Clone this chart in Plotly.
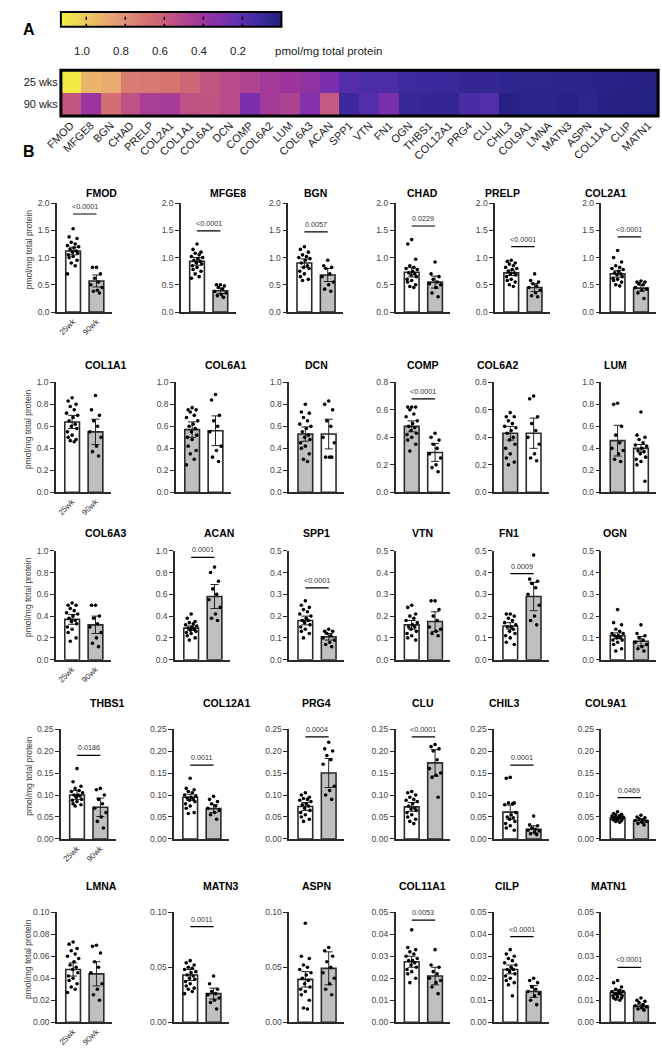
import numpy as np
import plotly.graph_objects as go

W, H = 662, 1050
FONT = "Arial, Liberation Sans, sans-serif"

# ---- data ----------------------------------------------------------------
genes = ["FMOD", "MFGE8", "BGN", "CHAD", "PRELP", "COL2A1",
         "COL1A1", "COL6A1", "DCN", "COMP", "COL6A2", "LUM",
         "COL6A3", "ACAN", "SPP1", "VTN", "FN1", "OGN",
         "THBS1", "COL12A1", "PRG4", "CLU", "CHIL3", "COL9A1",
         "LMNA", "MATN3", "ASPN", "COL11A1", "CILP", "MATN1"]
heat_genes = genes[:28] + ["CLIP", "MATN1"]
group_labels = ["25wk", "90wk"]

heat_25 = [1.12, 0.93, 0.90, 0.73, 0.72, 0.70, 0.64, 0.57, 0.53, 0.48, 0.43, 0.40,
           0.37, 0.29, 0.18, 0.16, 0.155, 0.11, 0.10, 0.095, 0.074, 0.073, 0.061, 0.048,
           0.048, 0.043, 0.039, 0.0275, 0.024, 0.0135]
heat_90 = [0.57, 0.39, 0.68, 0.55, 0.45, 0.44, 0.55, 0.56, 0.53, 0.29, 0.43, 0.47,
           0.32, 0.58, 0.105, 0.175, 0.29, 0.085, 0.072, 0.069, 0.15, 0.173, 0.022, 0.042,
           0.044, 0.026, 0.049, 0.021, 0.014, 0.0073]
colorbar_ticks = [1.0, 0.8, 0.6, 0.4, 0.2]

mean_a = [1.12, 0.93, 0.90, 0.73, 0.72, 0.70, 0.64, 0.57, 0.53, 0.48, 0.43, 0.47,
          0.37, 0.29, 0.18, 0.16, 0.155, 0.11, 0.10, 0.095, 0.074, 0.073, 0.061, 0.048,
          0.048, 0.043, 0.039, 0.0275, 0.024, 0.0135]
mean_b = [0.57, 0.39, 0.68, 0.55, 0.45, 0.44, 0.55, 0.56, 0.53, 0.29, 0.43, 0.40,
          0.32, 0.58, 0.105, 0.175, 0.29, 0.085, 0.072, 0.069, 0.15, 0.173, 0.022, 0.042,
          0.044, 0.026, 0.049, 0.021, 0.014, 0.0073]
err_a = [0.07, 0.07, 0.075, 0.085, 0.05, 0.06, 0.06, 0.07, 0.065, 0.04, 0.05, 0.14,
         0.045, 0.02, 0.02, 0.02, 0.015, 0.013, 0.01, 0.007, 0.009, 0.01, 0.016, 0.0025,
         0.006, 0.005, 0.007, 0.0025, 0.002, 0.001]
err_b = [0.11, 0.05, 0.12, 0.11, 0.075, 0.055, 0.115, 0.135, 0.135, 0.065, 0.11, 0.035,
         0.08, 0.11, 0.015, 0.045, 0.065, 0.022, 0.021, 0.009, 0.033, 0.03, 0.008, 0.004,
         0.011, 0.005, 0.015, 0.004, 0.0027, 0.0009]

pts_a = [
    [1.53, 1.38, 1.35, 1.28, 1.25, 1.22, 1.2, 1.18, 1.15, 1.12, 1.1, 1.08, 1.05, 1.02, 1.0, 0.95, 0.9, 0.85, 0.7],
    [1.25, 1.15, 1.1, 1.08, 1.05, 1.02, 1.0, 0.98, 0.95, 0.93, 0.9, 0.88, 0.85, 0.82, 0.78, 0.75, 0.7, 0.65, 0.62],
    [1.2, 1.15, 1.1, 1.05, 1.02, 1.0, 0.98, 0.95, 0.9, 0.85, 0.82, 0.8, 0.75, 0.7, 0.65, 0.6, 0.58],
    [1.33, 1.25, 0.97, 0.85, 0.82, 0.8, 0.78, 0.75, 0.72, 0.7, 0.68, 0.65, 0.6, 0.58, 0.55, 0.5, 0.47, 0.45],
    [0.95, 0.93, 0.9, 0.88, 0.85, 0.82, 0.8, 0.78, 0.75, 0.72, 0.7, 0.68, 0.65, 0.6, 0.58, 0.55, 0.5, 0.47],
    [1.13, 1.0, 0.92, 0.85, 0.82, 0.8, 0.78, 0.75, 0.72, 0.7, 0.68, 0.65, 0.62, 0.6, 0.58, 0.55, 0.5, 0.48],
    [0.86, 0.83, 0.8, 0.78, 0.75, 0.72, 0.7, 0.68, 0.65, 0.62, 0.6, 0.58, 0.55, 0.52, 0.5, 0.48, 0.47, 0.46],
    [0.77, 0.75, 0.75, 0.73, 0.7, 0.68, 0.65, 0.62, 0.6, 0.58, 0.55, 0.52, 0.5, 0.48, 0.42, 0.38, 0.35, 0.3, 0.25],
    [0.8, 0.73, 0.72, 0.68, 0.65, 0.62, 0.6, 0.58, 0.55, 0.52, 0.5, 0.48, 0.45, 0.42, 0.4, 0.35, 0.3, 0.28],
    [0.62, 0.62, 0.62, 0.6, 0.57, 0.55, 0.52, 0.5, 0.48, 0.47, 0.45, 0.43, 0.42, 0.4, 0.38, 0.35, 0.3],
    [0.58, 0.55, 0.55, 0.52, 0.5, 0.48, 0.47, 0.45, 0.43, 0.4, 0.38, 0.35, 0.32, 0.28, 0.25, 0.22, 0.2],
    [0.81, 0.8, 0.6, 0.52, 0.45, 0.4, 0.38, 0.35, 0.3, 0.28],
    [0.52, 0.5, 0.5, 0.47, 0.45, 0.43, 0.42, 0.4, 0.38, 0.36, 0.35, 0.33, 0.3, 0.28, 0.25, 0.2, 0.17],
    [0.42, 0.38, 0.35, 0.34, 0.33, 0.32, 0.31, 0.3, 0.29, 0.28, 0.27, 0.26, 0.25, 0.24, 0.22, 0.2, 0.18],
    [0.27, 0.25, 0.24, 0.23, 0.22, 0.21, 0.2, 0.19, 0.18, 0.18, 0.17, 0.16, 0.15, 0.14, 0.13, 0.12, 0.1],
    [0.25, 0.24, 0.21, 0.2, 0.19, 0.18, 0.17, 0.16, 0.15, 0.15, 0.14, 0.13, 0.12, 0.11, 0.1, 0.09],
    [0.21, 0.21, 0.2, 0.19, 0.18, 0.17, 0.16, 0.15, 0.15, 0.14, 0.13, 0.12, 0.11, 0.1, 0.08, 0.07],
    [0.23, 0.17, 0.16, 0.14, 0.13, 0.12, 0.12, 0.11, 0.11, 0.1, 0.1, 0.09, 0.09, 0.08, 0.07, 0.05, 0.04],
    [0.16, 0.13, 0.12, 0.115, 0.11, 0.108, 0.105, 0.1, 0.1, 0.098, 0.095, 0.09, 0.088, 0.085, 0.08, 0.078, 0.075],
    [0.138, 0.115, 0.112, 0.108, 0.105, 0.1, 0.098, 0.095, 0.093, 0.09, 0.088, 0.085, 0.08, 0.075, 0.07, 0.06, 0.058],
    [0.105, 0.1, 0.095, 0.092, 0.09, 0.088, 0.085, 0.08, 0.078, 0.075, 0.07, 0.065, 0.06, 0.055, 0.05, 0.045, 0.04],
    [0.108, 0.105, 0.1, 0.095, 0.09, 0.088, 0.085, 0.08, 0.075, 0.07, 0.068, 0.065, 0.06, 0.055, 0.05, 0.045, 0.04, 0.035],
    [0.14, 0.138, 0.082, 0.082, 0.08, 0.078, 0.06, 0.055, 0.05, 0.048, 0.045, 0.04, 0.035, 0.03, 0.025, 0.02],
    [0.062, 0.058, 0.056, 0.055, 0.053, 0.052, 0.05, 0.05, 0.049, 0.048, 0.047, 0.046, 0.045, 0.044, 0.043, 0.042, 0.04, 0.038],
    [0.073, 0.071, 0.067, 0.065, 0.062, 0.06, 0.058, 0.055, 0.052, 0.05, 0.048, 0.045, 0.042, 0.04, 0.038, 0.035, 0.032, 0.03, 0.027],
    [0.056, 0.054, 0.052, 0.05, 0.049, 0.048, 0.046, 0.045, 0.043, 0.042, 0.04, 0.039, 0.037, 0.035, 0.033, 0.031, 0.03, 0.028, 0.026],
    [0.09, 0.06, 0.058, 0.052, 0.05, 0.048, 0.045, 0.043, 0.04, 0.038, 0.035, 0.032, 0.03, 0.028, 0.025, 0.02, 0.013, 0.012],
    [0.042, 0.034, 0.033, 0.032, 0.031, 0.03, 0.029, 0.028, 0.028, 0.027, 0.026, 0.025, 0.024, 0.023, 0.022, 0.02, 0.018],
    [0.033, 0.031, 0.03, 0.029, 0.028, 0.027, 0.026, 0.025, 0.024, 0.024, 0.023, 0.022, 0.021, 0.02, 0.019, 0.018, 0.017, 0.012],
    [0.019, 0.018, 0.016, 0.015, 0.0145, 0.014, 0.014, 0.0135, 0.013, 0.013, 0.0125, 0.012, 0.012, 0.0115, 0.011, 0.011, 0.0105, 0.01],
]
pts_b = [
    [0.82, 0.82, 0.7, 0.62, 0.55, 0.5, 0.45, 0.4, 0.38, 0.35],
    [0.5, 0.5, 0.48, 0.45, 0.42, 0.38, 0.35, 0.32, 0.3, 0.27],
    [0.95, 0.85, 0.82, 0.8, 0.7, 0.65, 0.55, 0.5, 0.42, 0.38],
    [0.92, 0.7, 0.65, 0.6, 0.55, 0.52, 0.5, 0.45, 0.35, 0.28],
    [0.7, 0.58, 0.55, 0.52, 0.48, 0.45, 0.4, 0.35, 0.3, 0.28],
    [0.57, 0.55, 0.55, 0.52, 0.5, 0.45, 0.42, 0.4, 0.35, 0.25],
    [0.88, 0.75, 0.7, 0.65, 0.6, 0.55, 0.5, 0.42, 0.37, 0.33],
    [0.89, 0.84, 0.7, 0.65, 0.6, 0.55, 0.42, 0.38, 0.32, 0.28],
    [0.83, 0.8, 0.75, 0.65, 0.6, 0.5, 0.45, 0.32, 0.32, 0.32],
    [0.43, 0.4, 0.38, 0.35, 0.32, 0.28, 0.25, 0.2, 0.18, 0.15],
    [0.7, 0.68, 0.55, 0.5, 0.45, 0.4, 0.35, 0.28, 0.25, 0.23],
    [0.73, 0.52, 0.5, 0.48, 0.45, 0.43, 0.42, 0.4, 0.38, 0.37, 0.35, 0.32, 0.3, 0.28, 0.25, 0.1],
    [0.5, 0.5, 0.4, 0.38, 0.33, 0.3, 0.25, 0.2, 0.15, 0.12],
    [0.85, 0.8, 0.72, 0.65, 0.6, 0.55, 0.48, 0.42, 0.38, 0.36],
    [0.14, 0.13, 0.13, 0.12, 0.11, 0.1, 0.09, 0.08, 0.07, 0.06],
    [0.27, 0.27, 0.23, 0.2, 0.18, 0.15, 0.14, 0.13, 0.12, 0.11],
    [0.48, 0.37, 0.36, 0.35, 0.33, 0.3, 0.25, 0.2, 0.18, 0.16],
    [0.16, 0.12, 0.11, 0.1, 0.09, 0.08, 0.07, 0.06, 0.05, 0.04],
    [0.115, 0.112, 0.1, 0.09, 0.08, 0.07, 0.06, 0.05, 0.04, 0.025],
    [0.097, 0.09, 0.085, 0.08, 0.075, 0.07, 0.065, 0.06, 0.055, 0.045],
    [0.22, 0.205, 0.2, 0.19, 0.18, 0.17, 0.12, 0.11, 0.1, 0.09],
    [0.215, 0.21, 0.205, 0.2, 0.18, 0.16, 0.15, 0.145, 0.14, 0.095],
    [0.052, 0.032, 0.03, 0.025, 0.022, 0.02, 0.018, 0.015, 0.012, 0.01],
    [0.054, 0.05, 0.048, 0.046, 0.044, 0.042, 0.04, 0.038, 0.035, 0.032],
    [0.07, 0.069, 0.063, 0.055, 0.05, 0.045, 0.035, 0.03, 0.025, 0.02],
    [0.042, 0.035, 0.03, 0.028, 0.026, 0.025, 0.022, 0.02, 0.018, 0.012],
    [0.068, 0.065, 0.06, 0.055, 0.05, 0.045, 0.04, 0.035, 0.03, 0.025],
    [0.033, 0.026, 0.025, 0.023, 0.022, 0.02, 0.019, 0.018, 0.016, 0.013],
    [0.02, 0.019, 0.018, 0.016, 0.015, 0.014, 0.013, 0.012, 0.01, 0.008],
    [0.011, 0.01, 0.0095, 0.009, 0.008, 0.0075, 0.007, 0.0065, 0.006, 0.0055],
]

p_text = ["<0.0001", "<0.0001", "0.0057", "0.0229", "<0.0001", "<0.0001",
          None, None, None, "<0.0001", None, None,
          None, "0.0001", "<0.0001", None, "0.0009", None,
          "0.0186", "0.0011", "0.0004", "<0.0001", "0.0001", "0.0469",
          None, "0.0011", None, "0.0053", "<0.0001", "<0.0001"]
p_y = [1.8, 1.49, 1.47, 1.58, 1.2, 1.38,
       None, None, None, 0.68, None, None,
       None, 0.94, 0.33, None, 0.395, None,
       0.19, 0.168, 0.232, 0.232, 0.168, 0.094,
       None, 0.087, None, 0.0464, 0.0389, 0.0249]

y_max = [2.0] * 6 + [1.0, 1.0, 1.0, 0.8, 0.8, 1.0] + [1.0, 1.0, 0.5, 0.5, 0.5, 0.5] \
    + [0.25] * 6 + [0.1, 0.1, 0.1, 0.05, 0.05, 0.05]
y_dtick = [0.5] * 6 + [0.2] * 6 + [0.2, 0.2, 0.1, 0.1, 0.1, 0.1] \
    + [0.05] * 6 + [0.02, 0.05, 0.05, 0.01, 0.01, 0.01]
first_grey = ["COL6A1", "DCN", "COMP", "COL6A2", "LUM"]

# ---- layout helpers (pixel -> paper) --------------------------------------
def fx(px):
    return px / W


def fy(py):
    return 1 - py / H


row_left = [[42, 169, 279, 389, 491, 600],
            [41, 164, 280, 389, 490, 600],
            [41, 163, 280, 389, 490, 600],
            [46, 162, 280, 389, 490, 600],
            [42, 162, 280, 389, 490, 600]]
row_top = [200, 381, 551, 731, 916]
row_bot = [310, 492, 661, 842, 1027]
PANEL_W = 56

WHITE, GREY, EDGE = "white", "#bfbfbf", "#2a2a2a"

cs_vals = [0, 0.1, 0.2, 0.3, 0.4, 0.5, 0.6, 0.7, 0.8, 0.9, 1.0, 1.13]
cs_cols = ["#20207e", "#3a2a9c", "#5a2fae", "#7e30ae", "#9c359e", "#b4478e",
           "#c85c7c", "#d67470", "#e09078", "#e8ac70", "#eec860", "#f2ee44"]
ZMAX = 1.13
colorscale = [[v / ZMAX, c] for v, c in zip(cs_vals, cs_cols)]

fig = go.Figure()
layout = dict(width=W, height=H, margin=dict(l=0, r=0, t=0, b=0),
              plot_bgcolor="white", paper_bgcolor="white",
              font=dict(family=FONT, color="#222"), showlegend=False)
shapes, annotations = [], []

# ---- panel A: heatmap ------------------------------------------------------
fig.add_trace(go.Heatmap(z=[heat_90, heat_25], x=heat_genes, y=["90 wks", "25 wks"],
                         colorscale=colorscale, zmin=0, zmax=ZMAX, showscale=False,
                         xaxis="x", yaxis="y"))
layout["xaxis"] = dict(domain=[fx(46), fx(658)], anchor="y", tickangle=-45, ticks="",
                       tickfont=dict(size=11, color="#222"), showline=False,
                       showgrid=False, zeroline=False, fixedrange=True)
layout["yaxis"] = dict(domain=[fy(112), fy(66)], anchor="x", ticks="",
                       tickfont=dict(size=11, color="#222"), showgrid=False,
                       zeroline=False, ticklabelstandoff=2)
shapes.append(dict(type="rect", xref="paper", yref="paper", x0=fx(46), x1=fx(658),
                   y0=fy(112), y1=fy(66), line=dict(color="black", width=3)))

# colour key strip, drawn on its own reversed axis
strip = np.linspace(0, ZMAX, 240)
fig.add_trace(go.Heatmap(z=[strip], x=strip, y=[0], colorscale=colorscale, zmin=0,
                         zmax=ZMAX, showscale=False, xaxis="x2", yaxis="y2"))
layout["xaxis2"] = dict(domain=[fx(46), fx(272)], anchor="y2", range=[ZMAX, 0],
                        showticklabels=False, ticks="", showgrid=False, zeroline=False)
layout["yaxis2"] = dict(domain=[fy(22), fy(7)], anchor="x2", range=[-0.5, 0.5],
                        showticklabels=False, ticks="", showgrid=False, zeroline=False)
shapes.append(dict(type="rect", xref="paper", yref="paper", x0=fx(46), x1=fx(272),
                   y0=fy(22), y1=fy(7), line=dict(color="black", width=2)))
for t in colorbar_ticks:
    shapes.append(dict(type="line", xref="x2", yref="paper", x0=t, x1=t,
                       y0=fy(22), y1=fy(7), line=dict(color="black", width=1.5, dash="3px,4px")))
    annotations.append(dict(text=f"{t:.1f}", xref="x2", yref="paper", x=t, y=fy(38),
                            xshift=-4, showarrow=False, font=dict(size=11.5, color="#222")))
annotations.append(dict(text="pmol/mg total protein", xref="paper", yref="paper",
                        x=fx(263), y=fy(38), xanchor="left", showarrow=False,
                        font=dict(size=11.5, color="#222")))
annotations.append(dict(text="<b>A</b>", xref="paper", yref="paper", x=fx(5), y=fy(14),
                        xanchor="left", showarrow=False, font=dict(size=16, color="black")))
annotations.append(dict(text="<b>B</b>", xref="paper", yref="paper", x=fx(5), y=fy(137),
                        xanchor="left", showarrow=False, font=dict(size=16, color="black")))

# ---- panel B: bar charts ---------------------------------------------------
jitter = [0.0, -0.17, 0.17, -0.08, 0.09, -0.24, 0.24, 0.04, -0.13, 0.13, -0.03, 0.2, -0.2]
X_RANGE = [-0.69, 1.65]

for i, gene in enumerate(genes):
    r, c = divmod(i, 6)
    n = i + 3
    xa, ya = f"x{n}", f"y{n}"
    left = row_left[r][c]
    grey_first = gene in first_grey
    fills = [GREY, WHITE] if grey_first else [WHITE, GREY]

    fig.add_trace(go.Bar(x=[0, 1], y=[mean_a[i], mean_b[i]], width=0.63,
                         marker=dict(color=fills, line=dict(color=EDGE, width=1.6)),
                         error_y=dict(type="data", array=[err_a[i], err_b[i]],
                                      color="#222", thickness=1, width=4),
                         xaxis=xa, yaxis=ya))
    xs = [0 + jitter[k % len(jitter)] for k in range(len(pts_a[i]))] + \
         [1 + jitter[k % len(jitter)] for k in range(len(pts_b[i]))]
    fig.add_trace(go.Scatter(x=xs, y=pts_a[i] + pts_b[i], mode="markers",
                             marker=dict(color="black", size=3.6),
                             xaxis=xa, yaxis=ya))

    first_col = c == 0
    layout[f"xaxis{n}"] = dict(domain=[fx(left), fx(left + PANEL_W)], anchor=ya,
                               range=X_RANGE, showline=True, linecolor=EDGE, linewidth=1.5,
                               showgrid=False, zeroline=False, ticks="",
                               tickvals=[0, 1], ticktext=group_labels,
                               showticklabels=first_col, tickangle=-45,
                               tickfont=dict(size=8, color="#333"))
    fmt = ".1f" if y_max[i] >= 0.5 else ".2f"
    layout[f"yaxis{n}"] = dict(domain=[fy(row_bot[r]), fy(row_top[r])], anchor=xa,
                               range=[0, y_max[i]], dtick=y_dtick[i], tickformat=fmt,
                               showline=True, linecolor=EDGE, linewidth=1.5,
                               ticks="outside", ticklen=4, tickwidth=1.2, tickcolor=EDGE,
                               showgrid=False, zeroline=False,
                               tickfont=dict(size=8.5, color="#444"))

    annotations.append(dict(text=f"<b>{gene}</b>", xref="paper", yref="paper",
                            x=fx(left + PANEL_W / 2), y=fy(row_top[r] - 18),
                            showarrow=False, font=dict(size=10.5, color="black")))
    if first_col:
        annotations.append(dict(text="pmol/mg total protein", xref="paper", yref="paper",
                                x=fx(13), y=fy((row_top[r] + row_bot[r]) / 2 - 8),
                                xanchor="center", yanchor="middle",
                                textangle=-90, showarrow=False,
                                font=dict(size=8.5, color="#444")))
    if p_text[i]:
        shapes.append(dict(type="line", xref=xa, yref=ya, x0=0, x1=1,
                           y0=p_y[i], y1=p_y[i], line=dict(color="black", width=1.2)))
        annotations.append(dict(text=p_text[i], xref=xa, yref=ya, x=0.5, y=p_y[i],
                                yanchor="bottom", yshift=1, showarrow=False,
                                font=dict(size=7.2, color="#333")))

layout["shapes"] = shapes
layout["annotations"] = annotations
fig.update_layout(**layout)

# the page's default body margin would push the 662x1050 figure out of the window
fig.write_html("out.html", config={"displayModeBar": False},
               post_script="document.body.style.margin = '0px';")
